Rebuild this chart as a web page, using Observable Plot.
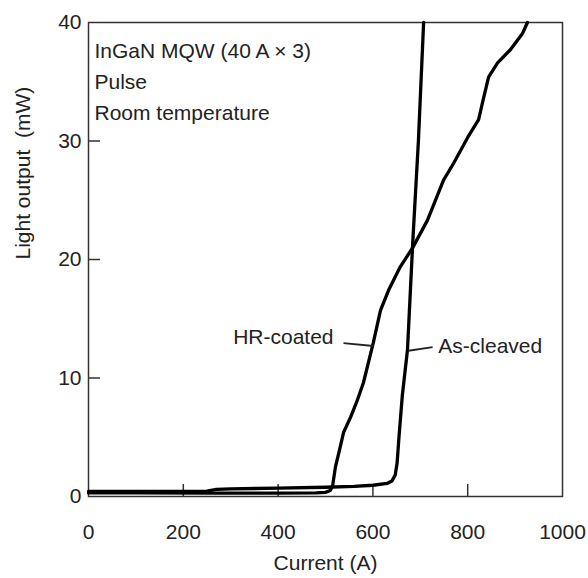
<!DOCTYPE html>
<html><head><meta charset="utf-8">
<script src="https://cdn.jsdelivr.net/npm/d3@7"></script>
<script src="https://cdn.jsdelivr.net/npm/@observablehq/plot@0.6"></script>
<style>body{margin:0;background:#fff}</style>
</head><body><div id="chart"></div>
<script>
// As-cleaved: current (A) and light output (mW)
const asCleavedX = [0, 100, 250, 270, 300, 400, 500, 560, 600, 630, 640, 647, 651, 655, 662, 673, 684, 696, 707];
const asCleavedY = [0.42, 0.42, 0.45, 0.6, 0.65, 0.7, 0.78, 0.85, 0.95, 1.1, 1.3, 1.8, 2.8, 5.0, 8.5, 12.4, 21.4, 30, 40];
// HR-coated
const hrX = [0, 100, 250, 400, 480, 500, 510, 515, 521, 530, 538, 553, 566, 580, 601, 616, 633, 658, 684, 715, 749, 770, 800, 823, 831, 844, 863, 890, 916, 926];
const hrY = [0.3, 0.3, 0.28, 0.28, 0.3, 0.35, 0.5, 0.9, 2.5, 4.0, 5.4, 6.7, 8.0, 9.6, 13.0, 15.7, 17.4, 19.4, 21.0, 23.3, 26.7, 28.1, 30.3, 31.8, 33.2, 35.4, 36.6, 37.7, 39.1, 40];

const xTicks = [0, 200, 400, 600, 800, 1000];
const yTicks = [0, 10, 20, 30, 40];
const xInnerTicks = [200, 400, 600, 800];
const yInnerTicks = [10, 20, 30];
const xDomain = [0, 1000];
const yDomain = [0, 40];
const annotationLines = ["InGaN MQW (40 A \u00d7 3)", "Pulse", "Room temperature"];
const seriesNames = ["HR-coated", "As-cleaved"];
const xTitle = "Current (A)";
const yTitle = "Light output\u00a0 (mW)";

const asCleaved = asCleavedX.map((x, i) => ({x, y: asCleavedY[i]}));
const hr = hrX.map((x, i) => ({x, y: hrY[i]}));

// label anchors & leader lines (annotation placement)
const hrLabel = [{text: seriesNames[0], x: 517, y: 13.4}];
const acLabel = [{text: seriesNames[1], x: 738, y: 12.7}];
const leaders = [
  {x1: 538, y1: 12.95, x2: 601, y2: 12.7},
  {x1: 675, y1: 12.3, x2: 726, y2: 12.6}
];

const FONT = "'Liberation Sans', Arial, Helvetica, sans-serif";
const INK = "#222";
const AX = "#333";
const frameW = 588 - 88 - 26, frameH = 578 - 22 - 82;

const chart = Plot.plot({
  width: 588, height: 578,
  marginLeft: 88, marginRight: 26, marginTop: 22, marginBottom: 82,
  style: {fontFamily: FONT, fontSize: "21px", color: INK, background: "#fff"},
  x: {domain: xDomain, label: null},
  y: {domain: yDomain, label: null},
  marks: [
    Plot.frame({stroke: AX, strokeWidth: 1.5}),
    Plot.tickX(xInnerTicks, {x: d => d, stroke: AX, strokeWidth: 1.5, insetTop: frameH - 12}),
    Plot.tickY(yInnerTicks, {y: d => d, stroke: AX, strokeWidth: 1.5, insetRight: frameW - 12}),
    Plot.axisX(xTicks, {tickSize: 0, tickPadding: 28, label: null, fill: INK, tickFormat: d => String(d)}),
    Plot.axisY(yTicks, {tickSize: 0, tickPadding: 7, label: null, fill: INK, tickFormat: d => String(d)}),
    Plot.line(hr, {x: "x", y: "y", stroke: "#000", strokeWidth: 3.3, strokeLinejoin: "round", strokeLinecap: "round"}),
    Plot.line(asCleaved, {x: "x", y: "y", stroke: "#000", strokeWidth: 3.3, strokeLinejoin: "round", strokeLinecap: "round"}),
    Plot.link(leaders, {x1: "x1", y1: "y1", x2: "x2", y2: "y2", stroke: INK, strokeWidth: 1.8}),
    Plot.text(hrLabel, {x: "x", y: "y", text: "text", textAnchor: "end", fill: INK}),
    Plot.text(acLabel, {x: "x", y: "y", text: "text", textAnchor: "start", fill: INK}),
    Plot.text([annotationLines.join("\n")], {frameAnchor: "top-left", dx: 6, dy: 13, textAnchor: "start", lineAnchor: "top", lineHeight: 1.48, fill: INK}),
    Plot.text([xTitle], {frameAnchor: "bottom", dy: 73, fill: INK}),
    Plot.text([yTitle], {frameAnchor: "left", dx: -65, rotate: -90, fill: INK})
  ]
});
document.getElementById("chart").append(chart);
</script>
</body></html>
